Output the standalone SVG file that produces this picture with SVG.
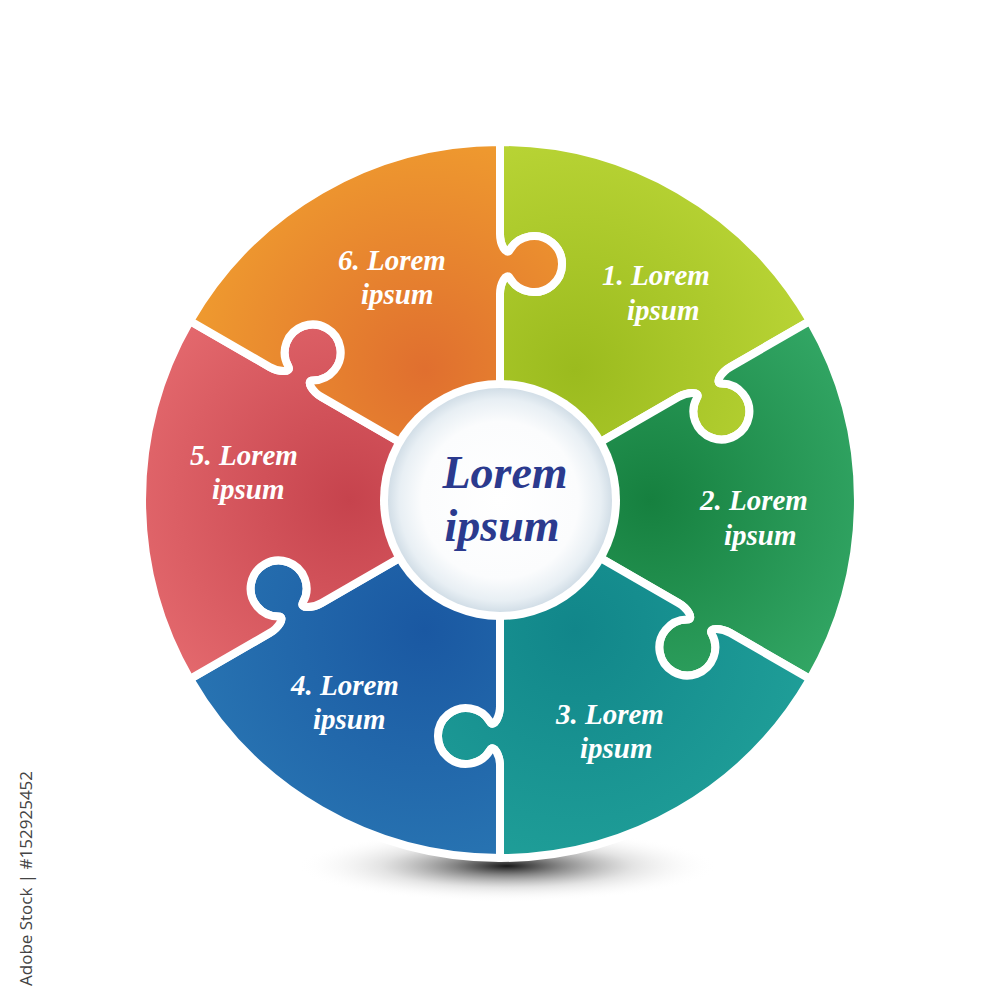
<svg xmlns="http://www.w3.org/2000/svg" width="1000" height="1000" viewBox="0 0 1000 1000">
<defs>
<style>
.piece{stroke:#ffffff;stroke-width:8;stroke-linejoin:round}
.lbl{font-family:"Liberation Serif",serif;font-style:italic;font-weight:bold;font-size:29px;fill:#ffffff}
.ctr{font-family:"Liberation Serif",serif;font-style:italic;font-weight:bold;font-size:46px;fill:#2b3a8e;text-anchor:middle}
.stock{font-family:"Open Sans","DejaVu Sans",sans-serif;font-size:17px;fill:#444444}
</style>
<path id="shape" d="M500 500 L321.6 397 C312.9 392 305.1 380.6 313.1 380.5 A28 28 0 1 0 288.2 366.1 C292.1 373.1 278.3 372 269.6 367 L190 321 A358 358 0 0 1 500 142 L500 234 C500 244 505.9 256.5 510 249.6 A28 28 0 1 1 510 278.4 C505.9 271.5 500 284 500 294 Z"/>
<radialGradient id="g1" gradientUnits="userSpaceOnUse" cx="425" cy="370" r="260"><stop offset="0" stop-color="#9bbb1e"/><stop offset="1" stop-color="#bbd637"/></radialGradient>
<radialGradient id="g2" gradientUnits="userSpaceOnUse" cx="425" cy="370" r="260"><stop offset="0" stop-color="#16803f"/><stop offset="1" stop-color="#35aa68"/></radialGradient>
<radialGradient id="g3" gradientUnits="userSpaceOnUse" cx="425" cy="370" r="260"><stop offset="0" stop-color="#11868a"/><stop offset="1" stop-color="#20a099"/></radialGradient>
<radialGradient id="g4" gradientUnits="userSpaceOnUse" cx="425" cy="370" r="260"><stop offset="0" stop-color="#1a58a2"/><stop offset="1" stop-color="#2976b3"/></radialGradient>
<radialGradient id="g5" gradientUnits="userSpaceOnUse" cx="425" cy="370" r="260"><stop offset="0" stop-color="#c6434d"/><stop offset="1" stop-color="#e66c70"/></radialGradient>
<radialGradient id="g6" gradientUnits="userSpaceOnUse" cx="425" cy="370" r="260"><stop offset="0" stop-color="#e06f2f"/><stop offset="1" stop-color="#f09e2f"/></radialGradient>
<radialGradient id="shadow" cx="0.5" cy="0.5" r="0.5"><stop offset="0" stop-color="#000000" stop-opacity="0.9"/><stop offset="0.25" stop-color="#222222" stop-opacity="0.55"/><stop offset="0.6" stop-color="#777777" stop-opacity="0.2"/><stop offset="1" stop-color="#ffffff" stop-opacity="0"/></radialGradient>
<radialGradient id="disc" cx="500" cy="500" r="112" gradientUnits="userSpaceOnUse"><stop offset="0" stop-color="#ffffff"/><stop offset="0.7" stop-color="#fbfcfd"/><stop offset="0.9" stop-color="#e8eff4"/><stop offset="1" stop-color="#d2dee7"/></radialGradient>
</defs>
<rect width="1000" height="1000" fill="#ffffff"/>
<ellipse cx="507" cy="866" rx="210" ry="36" fill="url(#shadow)"/>
<g id="piece1"><use href="#shape" class="piece" fill="url(#g1)" transform="rotate(60 500 500)"/><text class="lbl" x="602" y="285">1. Lorem</text><text class="lbl" x="627" y="320">ipsum</text></g>
<g id="piece2"><use href="#shape" class="piece" fill="url(#g2)" transform="rotate(120 500 500)"/><text class="lbl" x="700" y="510">2. Lorem</text><text class="lbl" x="724" y="545">ipsum</text></g>
<g id="piece3"><use href="#shape" class="piece" fill="url(#g3)" transform="rotate(180 500 500)"/><text class="lbl" x="556" y="724">3. Lorem</text><text class="lbl" x="580" y="758">ipsum</text></g>
<g id="piece4"><use href="#shape" class="piece" fill="url(#g4)" transform="rotate(240 500 500)"/><text class="lbl" x="291" y="695">4. Lorem</text><text class="lbl" x="313" y="729">ipsum</text></g>
<g id="piece5"><use href="#shape" class="piece" fill="url(#g5)" transform="rotate(300 500 500)"/><text class="lbl" x="190" y="465">5. Lorem</text><text class="lbl" x="212" y="499">ipsum</text></g>
<g id="piece6"><use href="#shape" class="piece" fill="url(#g6)"/><text class="lbl" x="338" y="270">6. Lorem</text><text class="lbl" x="361" y="304">ipsum</text></g>
<g id="center">
<circle cx="500" cy="500" r="120" fill="#ffffff"/>
<circle cx="500" cy="500" r="112" fill="url(#disc)"/>
<text class="ctr" x="505" y="488">Lorem</text>
<text class="ctr" x="502" y="541">ipsum</text>
</g>
<text class="stock" transform="translate(32 986) rotate(-90)">Adobe Stock | #152925452</text>
</svg>
